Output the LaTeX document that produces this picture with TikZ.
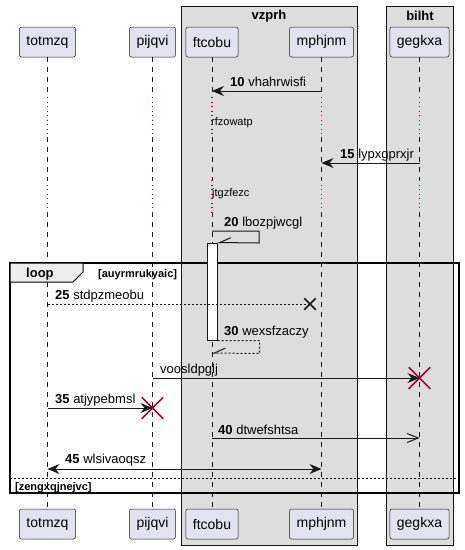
\documentclass[tikz,border=0pt]{standalone}
\usepackage{fontspec}
\setmainfont{Liberation Sans}
\usetikzlibrary{arrows.meta,shapes.misc}

\definecolor{partfill}{HTML}{E2E2F0}
\definecolor{boxfill}{HTML}{DDDDDD}
\definecolor{dark}{HTML}{181818}
\definecolor{killred}{HTML}{A80036}
\definecolor{tabfill}{HTML}{EEEEEE}

\begin{document}
\begin{tikzpicture}[x=1pt, y=-1pt]
        \tikzstyle{seq_part}  = [shape = rectangle, rounded corners = 2pt, draw = dark, line width = 0.5pt, fill = partfill, minimum height = 30pt, inner xsep = 7pt, font = \fontsize{14}{16}\selectfont]
        \tikzstyle{seq_box}   = [draw = dark, line width = 0.5pt, fill = boxfill]
        \tikzstyle{seq_title} = [font = \fontsize{13}{15}\selectfont\bfseries]
        \tikzstyle{seq_life}  = [draw = dark, line width = 0.5pt, dash pattern = on 5pt off 5pt]
        \tikzstyle{seq_delay} = [draw = killred, line width = 1.2pt, dash pattern = on 1pt off 3.5pt]
        \tikzstyle{seq_msg}   = [draw = dark, line width = 1pt]
        \tikzstyle{seq_lbl}   = [anchor = base west, inner sep = 0pt, font = \fontsize{13}{15}\selectfont]
        \tikzstyle{seq_small} = [anchor = base west, inner sep = 0pt, font = \fontsize{11}{13}\selectfont]
        \tikzstyle{seq_kill}  = [shape = cross out, draw = killred, line width = 1.5pt, minimum size = 20pt, inner sep = 0pt]
        \tikzstyle{seq_lost}  = [shape = cross out, draw = dark, line width = 1.5pt, minimum size = 10pt, inner sep = 0pt]
        \tikzstyle{seq_fill}  = [-{Stealth[length = 12pt, width = 10pt, inset = 4pt]}]
        \tikzstyle{seq_half}  = [-{Straight Barb[right, length = 11pt, width = 10pt]}]

        \useasboundingbox (0, 0) rectangle (465, 550);

        \draw[seq_box] (181, 6) rectangle (357, 545);
        \node[seq_title] at (269, 16) (g1) {vzprh};
        \draw[seq_box] (386, 6) rectangle (453, 545);
        \node[seq_title] at (420, 16) (g2) {bilht};

        \node[seq_part] at ( 47.5,  42) (t1) {totmzq};
        \node[seq_part] at (152.5,  42) (t2) {pijqvi};
        \node[seq_part] at (212.0,  42) (t3) {ftcobu};
        \node[seq_part] at (321.5,  42) (t4) {mphjnm};
        \node[seq_part] at (419.5,  42) (t5) {gegkxa};

        \node[seq_part] at ( 47.5, 524) (b1) {totmzq};
        \node[seq_part] at (152.5, 524) (b2) {pijqvi};
        \node[seq_part] at (212.0, 524) (b3) {ftcobu};
        \node[seq_part] at (321.5, 524) (b4) {mphjnm};
        \node[seq_part] at (419.5, 524) (b5) {gegkxa};

        \coordinate (dA) at (0,  97);
        \coordinate (dB) at (0, 137);
        \coordinate (dC) at (0, 180);
        \coordinate (dD) at (0, 212);

        \draw[seq_life]
          (t1) -- (t1 |- dA) (t1 |- dB) -- (t1 |- dC) (t1 |- dD) -- (b1)
          (t2) -- (t2 |- dA) (t2 |- dB) -- (t2 |- dC) (t2 |- dD) -- (b2)
          (t3) -- (t3 |- dA) (t3 |- dB) -- (t3 |- dC) (t3 |- dD) -- (b3)
          (t4) -- (t4 |- dA) (t4 |- dB) -- (t4 |- dC) (t4 |- dD) -- (b4)
          (t5) -- (t5 |- dA) (t5 |- dB) -- (t5 |- dC) (t5 |- dD) -- (b5)
        ;

        \draw[seq_delay]
          (t1 |- dA) -- (t1 |- dB) (t1 |- dC) -- (t1 |- dD)
          (t2 |- dA) -- (t2 |- dB) (t2 |- dC) -- (t2 |- dD)
          (t3 |- dA) -- (t3 |- dB) (t3 |- dC) -- (t3 |- dD)
          (t4 |- dA) -- (t4 |- dB) (t4 |- dC) -- (t4 |- dD)
          (t5 |- dA) -- (t5 |- dB) (t5 |- dC) -- (t5 |- dD)
        ;
        \node[seq_small] at (211, 125) (w1) {rfzowatp};
        \node[seq_small] at (212, 196) (w2) {jtgzfezc};

        \draw[line width = 1.5pt] (10, 263) rectangle (459, 493);
        \draw[line width = 1pt, fill = tabfill] (10, 263) -- (83, 263) -- (83, 272) -- (73, 282) -- (10, 282) -- cycle;
        \node[anchor = base west, inner sep = 0pt, font = \fontsize{13}{15}\selectfont\bfseries] at (26, 277) (f1) {loop};
        \node[seq_small, font = \fontsize{11}{13}\selectfont\bfseries] at (98, 277) (f2) {[auyrmrukyaic]};
        \draw[line width = 0.7pt, dash pattern = on 2pt off 2pt] (10, 478) -- (459, 478);
        \node[seq_small, font = \fontsize{11}{13}\selectfont\bfseries] at (15, 490) (f3) {[zengxqjnejvc]};

        \node[draw = dark, line width = 1pt, fill = white, minimum width = 10pt, minimum height = 97pt, inner sep = 0pt] at (212, 291.5) (a1) {};

        \coordinate (r10) at (0,  91);
        \coordinate (r15) at (0, 163);
        \coordinate (r20) at (0, 231);
        \coordinate (r25) at (0, 304);
        \coordinate (r30) at (0, 353);
        \coordinate (rV)  at (0, 378);
        \coordinate (r35) at (0, 408);
        \coordinate (r40) at (0, 438);
        \coordinate (r45) at (0, 469);

        \node[seq_lost] at (310, 304) (k3) {};
        \node[seq_kill] at (419.5, 378) (k1) {};
        \node[seq_kill] at (152.5, 408) (k2) {};

        \draw[seq_msg, seq_fill] (t4 |- r10) -- (t3 |- r10);
        \draw[seq_msg, seq_fill] (t5 |- r15) -- (t4 |- r15);
        \draw[seq_msg, seq_fill] (t2 |- rV)  -- (k1.center);
        \draw[seq_msg, seq_fill] (t1 |- r35) -- (k2.center);
        \draw[seq_msg, {Stealth[length = 12pt, width = 10pt, inset = 4pt]}-{Stealth[length = 12pt, width = 10pt, inset = 4pt]}]
          (t1 |- r45) -- (t4 |- r45);
        \draw[seq_msg, -{Straight Barb[length = 11pt, width = 9pt]}]
          (t3 |- r40) -- (t5 |- r40);
        \draw[seq_msg, dash pattern = on 2pt off 2pt]
          (t1 |- r25) -- (k3.center);
        \draw[seq_msg, seq_half]
          (t3 |- r20) -- ++(47, 0) -- ++(0, 12) -- (a1.north east);
        \draw[seq_msg, seq_half, dash pattern = on 2pt off 2pt]
          (a1.south east) -- ++(42, 0) -- ++(0, 13) -- (t3 |- r30);

        \node[seq_lbl] at (230,  86) (l10) {\textbf{10} vhahrwisfi};
        \node[seq_lbl] at (340, 158) (l15) {\textbf{15} lypxgprxjr};
        \node[seq_lbl] at (224, 226) (l20) {\textbf{20} lbozpjwcgl};
        \node[seq_lbl] at ( 55, 299) (l25) {\textbf{25} stdpzmeobu};
        \node[seq_lbl] at (224, 335) (l30) {\textbf{30} wexsfzaczy};
        \node[seq_lbl] at (160, 373) (lV)  {voosldpglj};
        \node[seq_lbl] at ( 55, 403) (l35) {\textbf{35} atjypebmsl};
        \node[seq_lbl] at (218, 434) (l40) {\textbf{40} dtwefshtsa};
        \node[seq_lbl] at ( 65, 463) (l45) {\textbf{45} wlsivaoqsz};
      \end{tikzpicture}
\end{document}
